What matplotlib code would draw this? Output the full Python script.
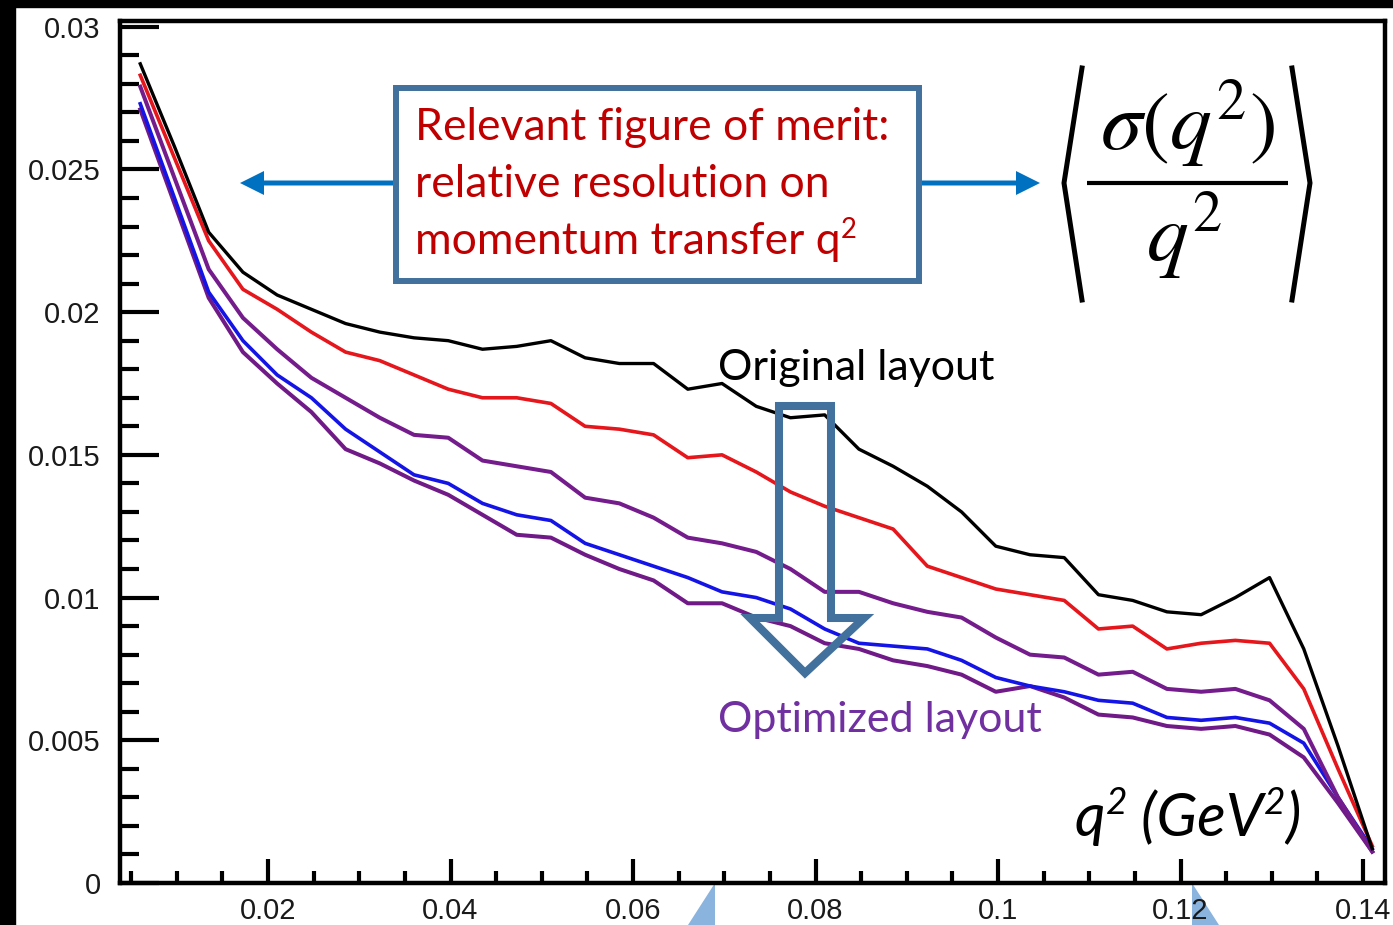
import matplotlib
matplotlib.use("Agg")
import matplotlib.pyplot as plt
from matplotlib.ticker import MultipleLocator, FuncFormatter
from matplotlib.patches import Rectangle, Polygon, FancyArrow

# q^2 bin centres (GeV^2)
q2 = [0.006, 0.00975, 0.0135, 0.01725, 0.021, 0.02475, 0.0285, 0.03225, 0.036,
      0.03975, 0.0435, 0.04725, 0.051, 0.05475, 0.0585, 0.06225, 0.066, 0.06975,
      0.0735, 0.07725, 0.081, 0.08475, 0.0885, 0.09225, 0.096, 0.09975, 0.1035,
      0.10725, 0.111, 0.11475, 0.1185, 0.12225, 0.126, 0.12975, 0.1335, 0.13725,
      0.141]

# <sigma(q^2)/q^2> for the detector layouts
res_original = [0.0287, 0.0258, 0.0228, 0.0214, 0.0206, 0.0201, 0.0196, 0.0193,
                0.0191, 0.0190, 0.0187, 0.0188, 0.0190, 0.0184, 0.0182, 0.0182,
                0.0173, 0.0175, 0.0167, 0.0163, 0.0164, 0.0152, 0.0146, 0.0139,
                0.0130, 0.0118, 0.0115, 0.0114, 0.0101, 0.0099, 0.0095, 0.0094,
                0.0100, 0.0107, 0.0082, 0.0048, 0.0012]
res_red = [0.0283, 0.0254, 0.0225, 0.0208, 0.0201, 0.0193, 0.0186, 0.0183,
           0.0178, 0.0173, 0.0170, 0.0170, 0.0168, 0.0160, 0.0159, 0.0157,
           0.0149, 0.0150, 0.0144, 0.0137, 0.0132, 0.0128, 0.0124, 0.0111,
           0.0107, 0.0103, 0.0101, 0.0099, 0.0089, 0.0090, 0.0082, 0.0084,
           0.0085, 0.0084, 0.0068, 0.0040, 0.0013]
res_purple_a = [0.0279, 0.0247, 0.0215, 0.0198, 0.0187, 0.0177, 0.0170, 0.0163,
                0.0157, 0.0156, 0.0148, 0.0146, 0.0144, 0.0135, 0.0133, 0.0128,
                0.0121, 0.0119, 0.0116, 0.0110, 0.0102, 0.0102, 0.0098, 0.0095,
                0.0093, 0.0086, 0.0080, 0.0079, 0.0073, 0.0074, 0.0068, 0.0067,
                0.0068, 0.0064, 0.0054, 0.0030, 0.0011]
res_blue = [0.0273, 0.0240, 0.0207, 0.0190, 0.0178, 0.0170, 0.0159, 0.0151,
            0.0143, 0.0140, 0.0133, 0.0129, 0.0127, 0.0119, 0.0115, 0.0111,
            0.0107, 0.0102, 0.0100, 0.0096, 0.0089, 0.0084, 0.0083, 0.0082,
            0.0078, 0.0072, 0.0069, 0.0067, 0.0064, 0.0063, 0.0058, 0.0057,
            0.0058, 0.0056, 0.0049, 0.0030, 0.0012]
res_purple_b = [0.0271, 0.0238, 0.0205, 0.0186, 0.0175, 0.0165, 0.0152, 0.0147,
                0.0141, 0.0136, 0.0129, 0.0122, 0.0121, 0.0115, 0.0110, 0.0106,
                0.0098, 0.0098, 0.0093, 0.0090, 0.0084, 0.0082, 0.0078, 0.0076,
                0.0073, 0.0067, 0.0069, 0.0065, 0.0059, 0.0058, 0.0055, 0.0054,
                0.0055, 0.0052, 0.0044, 0.0028, 0.0011]

W, H = 1393, 925
fig = plt.figure(figsize=(W / 100, H / 100), dpi=100, facecolor="white")
renderer = fig.canvas.get_renderer()

# background layer: dark frame strips and light-blue slide shapes
bg = fig.add_axes([0, 0, 1, 1], zorder=-1)
bg.set_xlim(0, W)
bg.set_ylim(H, 0)
bg.axis("off")
bg.add_patch(Rectangle((0, 0), 15, H, color="black"))
bg.add_patch(Rectangle((0, 0), W, 7, color="black"))
bg.add_patch(Polygon([(715, 883), (688, 925), (715, 925)], closed=True,
                     color="#8AB4DE", lw=0))
bg.add_patch(Polygon([(1192, 883), (1192, 925), (1219, 925)], closed=True,
                     color="#8AB4DE", lw=0))

# main plot
left, right = 120 / W, 1385 / W
bottom, top = (H - 883) / H, (H - 21) / H
ax = fig.add_axes([left, bottom, right - left, top - bottom], zorder=0)
ax.set_facecolor("white")

ax.plot(q2, res_purple_b, color="#701A88", lw=2.9)
ax.plot(q2, res_blue, color="#1414E6", lw=2.6)
ax.plot(q2, res_purple_a, color="#741C8C", lw=2.9)
ax.plot(q2, res_red, color="#E5161C", lw=2.6)
ax.plot(q2, res_original, color="black", lw=2.4)

ax.set_xlim(0.00378, 0.1424)
ax.set_ylim(0, 0.0302)
ax.xaxis.set_major_locator(MultipleLocator(0.02))
ax.xaxis.set_minor_locator(MultipleLocator(0.005))
ax.yaxis.set_major_locator(MultipleLocator(0.005))
ax.yaxis.set_minor_locator(MultipleLocator(0.001))
fmt = FuncFormatter(lambda v, p: "0" if abs(v) < 1e-12 else f"{v:g}")
ax.xaxis.set_major_formatter(fmt)
ax.yaxis.set_major_formatter(fmt)

for s in ax.spines.values():
    s.set_linewidth(3.2)
ax.tick_params(which="both", direction="in", width=3.0, color="black",
               top=False, right=False)
ax.tick_params(axis="y", which="major", length=28, pad=14)
ax.tick_params(axis="y", which="minor", length=14)
ax.tick_params(axis="x", which="major", length=17, pad=10)
ax.tick_params(axis="x", which="minor", length=8.5)
for lab in ax.get_xticklabels() + ax.get_yticklabels():
    lab.set_fontfamily("Liberation Sans")
    lab.set_fontsize(21)
    lab.set_color("#1a1a1a")

# annotation layer in pixel coordinates
ov = fig.add_axes([0, 0, 1, 1], zorder=2)
ov.set_xlim(0, W)
ov.set_ylim(H, 0)
ov.axis("off")
ov.patch.set_alpha(0)


def rich_text(x, y, parts, size, **kw):
    """Write a run of text pieces on one baseline; pieces flagged True are
    set as superscripts."""
    for s, sup in parts:
        fs = size * 0.62 if sup else size
        dy = -size * 1.39 * 0.36 if sup else 0
        t = ov.text(x, y + dy, s, fontsize=fs, va="baseline", ha="left", **kw)
        x += t.get_window_extent(renderer).width


steel = "#41719C"
arrow_blue = "#0070C0"

ov.add_patch(Rectangle((396, 88), 523, 193, facecolor="white",
                       edgecolor=steel, lw=4.3))
box_font = dict(fontfamily="Lato", color="#C00000")
rich_text(415, 140, [("Relevant figure of merit:", False)], 32, **box_font)
rich_text(415, 197, [("relative resolution on", False)], 32, **box_font)
rich_text(415, 254, [("momentum transfer q", False), ("2", True)], 32,
          **box_font)

ov.add_patch(FancyArrow(393, 183, -153, 0, width=5, head_width=24,
                        head_length=24, length_includes_head=True,
                        color=arrow_blue, lw=0))
ov.add_patch(FancyArrow(922, 183, 118, 0, width=5, head_width=24,
                        head_length=24, length_includes_head=True,
                        color=arrow_blue, lw=0))

# <sigma(q^2)/q^2>
ov.text(1187, 150, r"$\sigma(q^{2})$", fontsize=60, ha="center",
        va="baseline", color="black", math_fontfamily="stix")
ov.text(1184, 262, r"$q^{2}$", fontsize=60, ha="center", va="baseline",
        color="black", math_fontfamily="stix")
ov.plot([1087, 1288], [183, 183], color="black", lw=3.0,
        solid_capstyle="butt")
ov.plot([1082, 1064, 1082], [68, 183, 300], color="black", lw=3.6,
        solid_joinstyle="miter")
ov.plot([1292, 1310, 1292], [68, 183, 300], color="black", lw=3.6,
        solid_joinstyle="miter")

rich_text(718, 380, [("Original layout", False)], 31, fontfamily="Lato",
          color="black")
rich_text(718, 732, [("Optimized layout", False)], 31, fontfamily="Lato",
          color="#7030A0")
rich_text(1075, 836, [("q", False), ("2", True), (" (GeV", False),
                      ("2", True), (")", False)], 43, fontfamily="Lato",
          style="italic", color="black")

ov.add_patch(Polygon([(779, 406), (831, 406), (831, 618), (864, 618),
                      (805, 673), (750, 618), (779, 618)], closed=True,
                     fill=False, edgecolor=steel, lw=5.8, joinstyle="miter"))

fig.savefig("out.png", dpi=100, facecolor="white")
